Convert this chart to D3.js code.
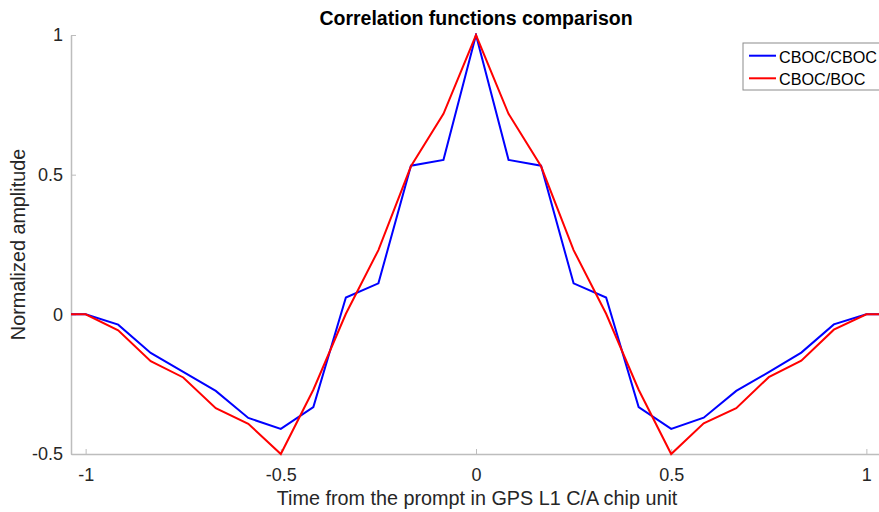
<!DOCTYPE html>
<html>
<head>
<meta charset="utf-8">
<script src="https://cdn.jsdelivr.net/npm/d3@7"></script>
<style>
  body { margin: 0; background: #fff; }
  text { font-family: "Liberation Sans", Arial, sans-serif; }
</style>
</head>
<body>
<svg id="chart" width="879" height="512"></svg>
<script>
// chip offsets (k/12), with one extra point each side past the axis limits
var xs = [-13/12, -1, -11/12, -10/12, -9/12, -8/12, -7/12, -6/12, -5/12, -4/12, -3/12, -2/12, -1/12, 0,
          1/12, 2/12, 3/12, 4/12, 5/12, 6/12, 7/12, 8/12, 9/12, 10/12, 11/12, 1, 13/12]
var cbocCboc = [0, 0, -0.037, -0.138, -0.206, -0.274, -0.371, -0.41, -0.332, 0.06, 0.111, 0.532, 0.553, 1,
                0.553, 0.532, 0.111, 0.06, -0.332, -0.41, -0.37, -0.274, -0.207, -0.137, -0.036, 0, 0]
var cbocBoc = [0, 0, -0.057, -0.168, -0.226, -0.336, -0.392, -0.5, -0.27, 0.002, 0.23, 0.53, 0.718, 1,
               0.718, 0.53, 0.23, 0.002, -0.27, -0.5, -0.39, -0.336, -0.225, -0.166, -0.055, 0, 0]
var seriesNames = ["CBOC/CBOC", "CBOC/BOC"]
var seriesColors = ["#0000ff", "#ff0000"]
var xTicks = [-1, -0.5, 0, 0.5, 1]
var yTicks = [-0.5, 0, 0.5, 1]

var svg = d3.select("#chart")
var mLeft = 71, mRight = 881, mTop = 35, mBottom = 454

var x = d3.scaleLinear().domain([-1.0375, 1.0375]).range([mLeft, mRight])
var y = d3.scaleLinear().domain([-0.5, 1]).range([mBottom, mTop])

svg.append("defs").append("clipPath").attr("id", "clip")
  .append("rect").attr("x", mLeft).attr("y", mTop - 2)
  .attr("width", mRight - mLeft).attr("height", mBottom - mTop + 4)

// axes, MATLAB-like inward ticks, no box
var xAxis = svg.append("g")
  .attr("transform", "translate(0," + mBottom + ")")
  .call(d3.axisBottom(x).tickValues(xTicks).tickSizeInner(-5).tickSizeOuter(0)
    .tickFormat(function(d) { return String(d) }))
var yAxis = svg.append("g")
  .attr("transform", "translate(" + mLeft + ",0)")
  .call(d3.axisLeft(y).tickValues(yTicks).tickSizeInner(-5).tickSizeOuter(0)
    .tickFormat(function(d) { return String(d) }))

;[xAxis, yAxis].forEach(function(a) {
  a.select(".domain").attr("stroke", "#bdbdbd").attr("stroke-width", 1.5)
  a.selectAll(".tick line").attr("stroke", "#bdbdbd").attr("stroke-width", 1)
  a.selectAll(".tick text").attr("fill", "#262626").style("font-size", "18px")
    .style("font-family", "Liberation Sans, Arial, sans-serif")
})
xAxis.selectAll(".tick text").attr("y", 14)
yAxis.selectAll(".tick text").attr("x", -8)

// lines
var line = d3.line()
  .x(function(d) { return x(d[0]) })
  .y(function(d) { return y(d[1]) })

var plot = svg.append("g").attr("clip-path", "url(#clip)")
;[cbocCboc, cbocBoc].forEach(function(vals, i) {
  plot.append("path")
    .datum(xs.map(function(v, j) { return [v, vals[j]] }))
    .attr("fill", "none")
    .attr("stroke", seriesColors[i])
    .attr("stroke-width", 2)
    .attr("stroke-linejoin", "miter")
    .attr("d", line)
})

// title and labels
svg.append("text")
  .attr("x", 476).attr("y", 25)
  .attr("text-anchor", "middle")
  .style("font-size", "19.5px").style("font-weight", "bold")
  .attr("fill", "#000")
  .text("Correlation functions comparison")

svg.append("text")
  .attr("x", 477).attr("y", 505)
  .attr("text-anchor", "middle")
  .style("font-size", "19.8px")
  .attr("fill", "#262626")
  .text("Time from the prompt in GPS L1 C/A chip unit")

svg.append("text")
  .attr("transform", "translate(25," + ((mTop + mBottom) / 2) + ") rotate(-90)")
  .attr("text-anchor", "middle")
  .style("font-size", "19.8px")
  .attr("fill", "#262626")
  .text("Normalized amplitude")

// legend
var legend = svg.append("g").attr("transform", "translate(743,43)")
legend.append("rect")
  .attr("x", 0).attr("y", 0).attr("width", 150).attr("height", 47)
  .attr("fill", "#fff").attr("stroke", "#8c8c8c").attr("stroke-width", 1)
seriesNames.forEach(function(name, i) {
  var ly = 12.7 + i * 22.6
  legend.append("line")
    .attr("x1", 6).attr("x2", 33).attr("y1", ly).attr("y2", ly)
    .attr("stroke", seriesColors[i]).attr("stroke-width", 2)
  legend.append("text")
    .attr("x", 36).attr("y", ly + 7)
    .style("font-size", "16.2px")
    .attr("fill", "#000")
    .text(name)
})
</script>
</body>
</html>
